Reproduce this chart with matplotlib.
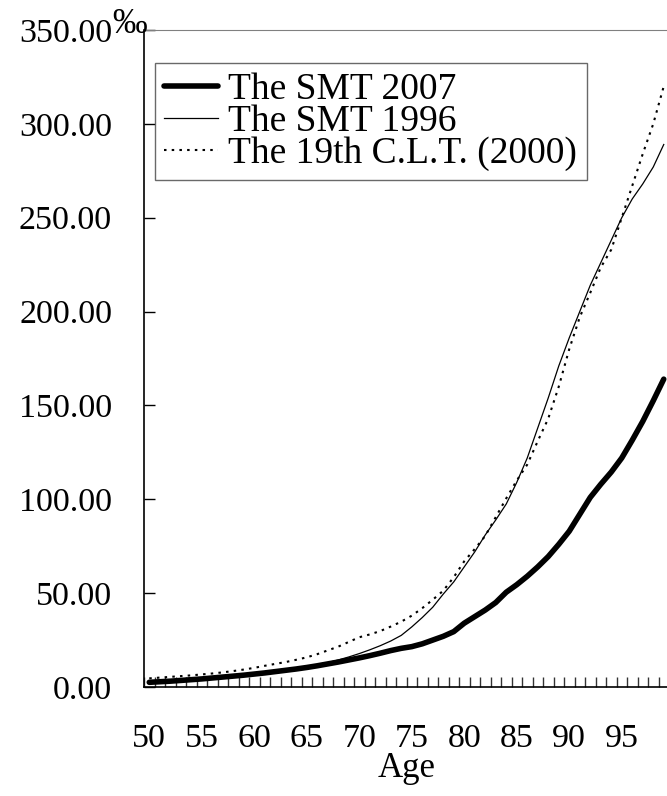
import numpy as np
import matplotlib
matplotlib.use("Agg")
import matplotlib.pyplot as plt

plt.rcParams['font.family'] = ['Liberation Serif', 'DejaVu Serif']

# ages 50..99
ages = list(range(50, 100))

smt_2007 = [2.5, 2.8, 3.1, 3.5, 3.9, 4.3, 4.8, 5.3, 5.8, 6.3,
            6.9, 7.5, 8.2, 8.9, 9.6, 10.4, 11.3, 12.3, 13.3, 14.4,
            15.5, 16.7, 18.0, 19.4, 20.6, 21.5, 23.0, 25.0, 27.0, 29.5,
            34.0, 37.5, 41.0, 45.0, 50.5, 54.5, 59.0, 64.0, 69.5, 76.0,
            83.0, 92.0, 101.0, 108.0, 114.5, 122.0, 131.5, 141.5, 152.5, 164.0]

smt_1996 = [2.6, 2.9, 3.2, 3.6, 4.0, 4.4, 4.9, 5.4, 5.9, 6.5,
            7.1, 7.8, 8.5, 9.2, 10.0, 10.8, 11.8, 13.0, 14.4, 16.0,
            17.8, 19.8, 22.0, 24.5, 27.5, 32.0, 37.0, 42.5, 49.5, 56.0,
            64.0, 72.0, 81.0, 89.0, 97.5, 109.0, 122.0, 138.0, 154.0, 171.0,
            186.0, 200.0, 214.0, 226.0, 238.0, 250.0, 260.0, 268.0, 277.0, 289.0]

clt_2000 = [4.6, 5.0, 5.4, 5.8, 6.2, 6.7, 7.2, 7.8, 8.5, 9.3,
            10.2, 11.3, 12.3, 13.3, 14.5, 15.8, 17.5, 19.5, 21.5, 24.0,
            26.5, 28.0, 29.8, 32.2, 34.8, 38.0, 42.0, 46.5, 51.3, 58.5,
            67.0, 73.5, 80.5, 90.5, 100.5, 110.0, 118.5, 131.0, 143.0, 160.0,
            180.0, 197.0, 210.0, 223.5, 233.0, 250.0, 267.0, 284.0, 300.0, 320.0]

labels = ['The SMT 2007', 'The SMT 1996', 'The 19th C.L.T. (2000)']
yticks = [0, 50, 100, 150, 200, 250, 300, 350]

W, H = 667, 796
fig = plt.figure(figsize=(W / 100, H / 100), dpi=100)
ax = fig.add_axes([144 / W, (H - 687) / H, 525 / W, 657 / H])

x = np.arange(len(ages))
ax.plot(x, smt_2007, color='black', lw=4.0, label=labels[0], solid_capstyle='round')
ax.plot(x, smt_1996, color='black', lw=0.9, label=labels[1])
ax.plot(x, clt_2000, color='black', lw=1.5, linestyle=(0, (1.2, 2.5)), label=labels[2])

ax.set_xlim(-0.5, len(ages) - 0.5)
ax.set_ylim(0, 350)

# category boundaries get the tick marks, labels sit at every 5th category
ax.set_xticks(np.arange(-0.5, len(ages) + 0.5, 1.0))
ax.set_xticklabels([])
ax.set_xticks(x[::5], minor=True)
ax.set_xticklabels([str(a) for a in ages[::5]], minor=True)
ax.tick_params(axis='x', which='major', direction='in', length=7, width=1, color='#333333')
ax.tick_params(axis='x', which='minor', length=0, pad=26, labelsize=24.5)

ax.set_yticks(yticks)
ax.set_yticklabels(['%.2f' % v for v in yticks])
ax.tick_params(axis='y', direction='in', length=8, width=1, pad=23, labelsize=24.5)

ax.spines['right'].set_visible(False)
ax.spines['top'].set_color('#808080')
for s in ['left', 'bottom']:
    ax.spines[s].set_color('black')
    ax.spines[s].set_linewidth(1.2)

ax.set_xlabel('Age', fontsize=25, labelpad=-1)

fig.text(112 / W, 1 - 33 / H, '\u2030', fontsize=25, ha='left', va='baseline')

leg = ax.legend(loc='upper left', bbox_to_anchor=(155 / W, 1 - 63 / H),
                bbox_transform=fig.transFigure, fontsize=27, frameon=True,
                fancybox=False, borderpad=0.25, labelspacing=-0.07,
                handlelength=1.44, handletextpad=0.27, borderaxespad=0)
leg.get_frame().set_edgecolor('#444444')
leg.get_frame().set_linewidth(1.0)

fig.savefig('out.png', dpi=100)
